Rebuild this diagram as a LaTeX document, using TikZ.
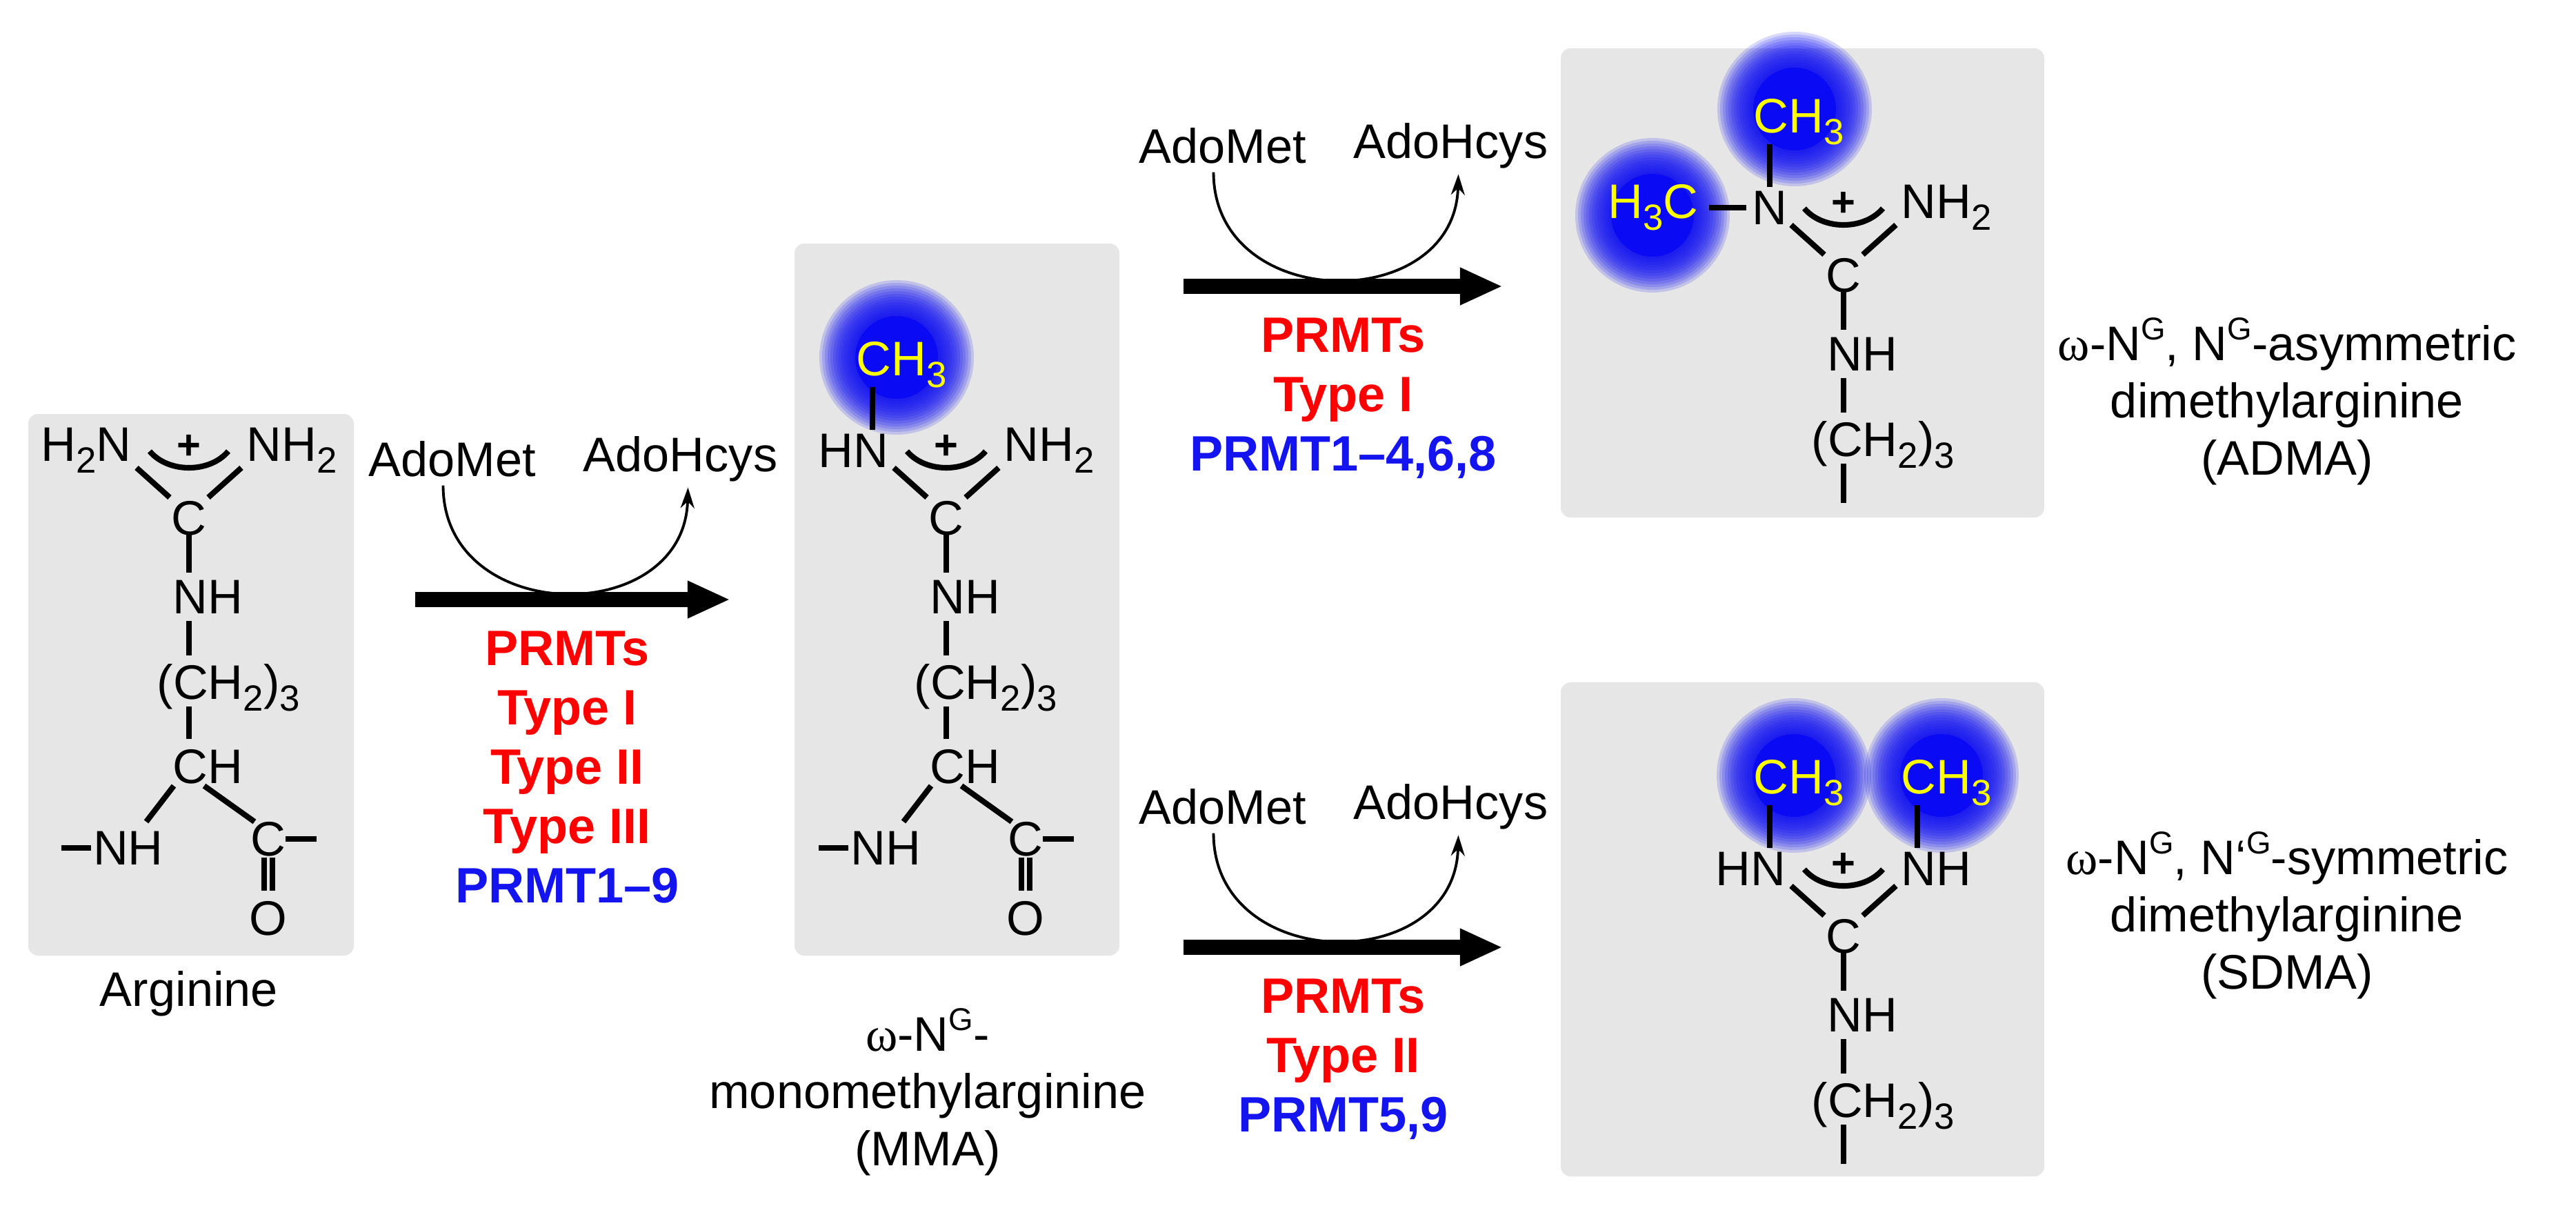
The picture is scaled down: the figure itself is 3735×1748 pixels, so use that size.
\documentclass[tikz,border=0pt]{standalone}
\usepackage{fontspec}
\setmainfont{Liberation Sans}
\newfontfamily\grfont{Liberation Serif}
\usetikzlibrary{arrows.meta,calc}
\definecolor{boxgray}{RGB}{230,230,230}
\definecolor{glowblue}{RGB}{10,10,245}
\definecolor{prmtred}{RGB}{255,0,0}
\definecolor{prmtblue}{RGB}{20,20,240}
\definecolor{methyl}{RGB}{255,255,0}
\newcommand\chsub[1]{\raisebox{-0.45ex}{\fontsize{15}{15}\selectfont #1}}
\newcommand\chsup[1]{\raisebox{0.8ex}{\fontsize{13}{13}\selectfont #1}}
\newcommand\om{{\grfont ω}}
% guanidinium head, C at (0,0)
\newcommand\guanhead{%
  \node (cg) at (0,0) {C};
  \draw[bond] (-28,-30) -- (-76,-73);
  \draw[bond] (28,-30) -- (76,-73);
  \draw[bond] (-57,-97) .. controls (-30,-65) and (30,-65) .. (57,-97);
  \node[font=\fontsize{17}{17}\bfseries\selectfont] (plus) at (0,-103) {+};}
% side chain down to (CH2)3
\newcommand\sidechain{%
  \draw[bond] (0,22) -- (0,79);
  \node[anchor=west] (nhd) at (-24,114) {NH};
  \draw[bond] (0,149) -- (0,199);
  \node[anchor=west] (chtwo) at (-47,246) {(CH\chsub{2})\chsub{3}};}
\newcommand\backbone{%
  \draw[bond] (0,273) -- (0,320);
  \node[anchor=west] (cha) at (-24,360) {CH};
  \draw[bond] (-22,388) -- (-62,440);
  \draw[bond] (22,388) -- (95,440);
  \node (nhb) at (-88,478) {NH};
  \draw[bond] (-185,478) -- (-142,478);
  \node (cco) at (115,465) {C};
  \draw[bond] (140,465) -- (185,465);
  \draw[bond] (109,492) -- (109,540);
  \draw[bond] (121,492) -- (121,540);
  \node (oco) at (115,580) {O};}
\newcommand\glow[2]{%
  \fill[glowblue] (#1,#2) circle (60);
  \foreach \r in {64,68,...,112}{\fill[glowblue, opacity=0.16] (#1,#2) circle (\r);}}
\tikzset{
  bond/.style={line width=2.3pt},
  mbox/.style={fill=boxgray, rounded corners=4pt},
  react/.style={line width=6.2pt, -{Triangle[length=0.62cm,width=0.5cm]}},
  cofactor/.style={line width=1.1pt, -{Stealth[length=0.3cm,width=0.2cm]}},
  enz/.style={font=\fontsize{20.5}{24.5}\bfseries\selectfont, align=center},
  molname/.style={align=center}
}
\begin{document}
\begin{tikzpicture}[x=0.01cm, y=-0.01cm, inner sep=0pt,
  every node/.append style={font=\fontsize{20}{23.6}\selectfont}]
\useasboundingbox (0,0) rectangle (3735,1748);
% boxes
\fill[mbox] (41,600) rectangle (513,1385);
\fill[mbox] (1152,353) rectangle (1623,1385);
\fill[mbox] (2263,70) rectangle (2964,750);
\fill[mbox] (2263,989) rectangle (2964,1705);
% arginine
\begin{scope}[shift={(274,751)}]
  \guanhead
  \node[anchor=east] (nl) at (-83,-98) {H\chsub{2}N};
  \node[anchor=west] (nr) at (83,-98) {NH\chsub{2}};
  \sidechain \backbone
  \node (argname) at (0,689) {Arginine};
\end{scope}
% MMA
\begin{scope}[shift={(1372,751)}]
  \glow{-72}{-233}
  \guanhead
  \node[anchor=east] (nl) at (-83,-98) {HN};
  \node[anchor=west] (nr) at (83,-98) {NH\chsub{2}};
  \draw[bond] (-107,-128) -- (-107,-190);
  \node[anchor=west, text=methyl] (me) at (-131,-222) {CH\chsub{3}};
  \sidechain \backbone
  \node[molname] (mmaname) at (-27,832) {\om-N\chsup{G}-\\monomethylarginine\\(MMA)};
\end{scope}
% ADMA
\begin{scope}[shift={(2673,399)}]
  \glow{-71}{-241}
  \glow{-277}{-87}
  \guanhead
  \node (nl) at (-107,-98) {N};
  \node[anchor=west] (nr) at (83,-98) {NH\chsub{2}};
  \draw[bond] (-107,-128) -- (-107,-190);
  \node[anchor=west, text=methyl] (mea) at (-131,-222) {CH\chsub{3}};
  \draw[bond] (-195,-98) -- (-141,-98);
  \node[anchor=east, text=methyl] (meb) at (-210,-98) {H\chsub{3}C};
  \sidechain
  \draw[bond] (0,273) -- (0,330);
\end{scope}
% SDMA
\begin{scope}[shift={(2673,1357)}]
  \glow{-72}{-233}
  \glow{142}{-233}
  \guanhead
  \node[anchor=east] (nl) at (-83,-98) {HN};
  \node[anchor=west] (nr) at (83,-98) {NH};
  \draw[bond] (-107,-128) -- (-107,-190);
  \draw[bond] (107,-128) -- (107,-190);
  \node[anchor=west, text=methyl] (mea) at (-131,-222) {CH\chsub{3}};
  \node[anchor=west, text=methyl] (meb) at (83,-222) {CH\chsub{3}};
  \sidechain
  \draw[bond] (0,273) -- (0,330);
\end{scope}
% product names
\node[molname] (admaname) at (3316,582) {\om-N\chsup{G}, N\chsup{G}-asymmetric\\dimethylarginine\\(ADMA)};
\node[molname] (sdmaname) at (3316,1327) {\om-N\chsup{G}, N‘\chsup{G}-symmetric\\dimethylarginine\\(SDMA)};
% reactions
\foreach \tag/\xa/\xb/\ya in {one/602/1059/869, two/1716/2179/415, three/1716/2179/1373}{
  \coordinate (s\tag) at (\xa,\ya);
  \coordinate (e\tag) at (\xb,\ya);
  \draw[react] (s\tag) -- (e\tag);
  \coordinate (m\tag) at ($(s\tag)!0.5!(e\tag)$);
}
\foreach \tag in {one,two,three}{
  \node (met\tag) at ([xshift=-175*0.01cm,yshift=204*0.01cm]m\tag) {AdoMet};
  \node (hcy\tag) at ([xshift=156*0.01cm,yshift=204*0.01cm]m\tag) {AdoHcys};
  \draw[cofactor] ([xshift=-13*0.01cm,yshift=-12*0.01cm]met\tag.south) .. controls +(0,205) and +(-5,205) .. ([xshift=11*0.01cm,yshift=-8*0.01cm]hcy\tag.south);
}
\node[enz, anchor=north] (enzone) at ([xshift=-8*0.01cm,yshift=-45*0.01cm]mone)
  {\textcolor{prmtred}{PRMTs}\\\textcolor{prmtred}{Type I}\\\textcolor{prmtred}{Type II}\\\textcolor{prmtred}{Type III}\\\textcolor{prmtblue}{PRMT1–9}};
\node[enz, anchor=north] (enztwo) at ([yshift=-45*0.01cm]mtwo)
  {\textcolor{prmtred}{PRMTs}\\\textcolor{prmtred}{Type I}\\\textcolor{prmtblue}{PRMT1–4,6,8}};
\node[enz, anchor=north] (enzthree) at ([yshift=-45*0.01cm]mthree)
  {\textcolor{prmtred}{PRMTs}\\\textcolor{prmtred}{Type II}\\\textcolor{prmtblue}{PRMT5,9}};
\end{tikzpicture}
\end{document}
